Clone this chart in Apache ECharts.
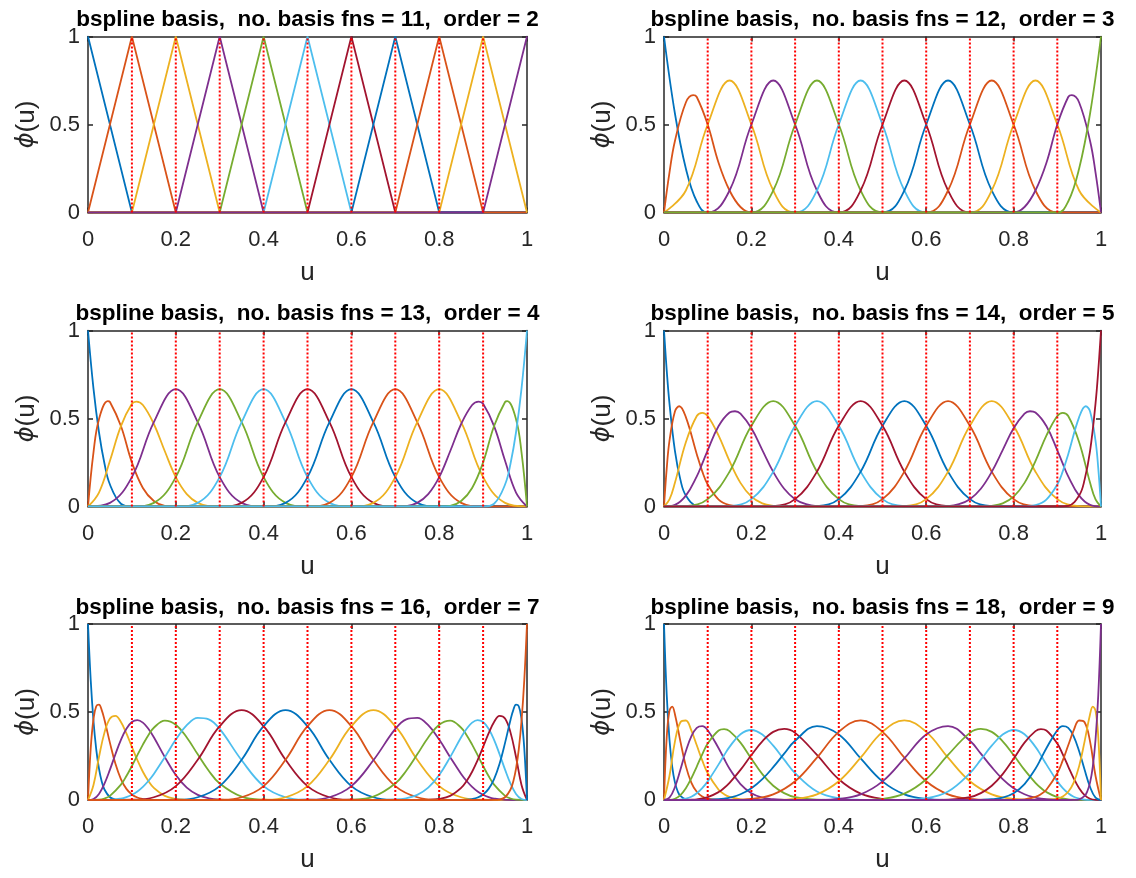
<!DOCTYPE html>
<html><head><meta charset="utf-8">
<script src="https://cdn.jsdelivr.net/npm/echarts@6/dist/echarts.min.js"></script>
<style>html,body{margin:0;padding:0;background:#fff}#c{width:1136px;height:878px}</style>
</head><body><div id="c"></div>
<script>
// ---------- DATA ----------
const lineColors = ['#0072BD','#D95319','#EDB120','#7E2F8E','#77AC30','#4DBEEE','#A2142F'];
const interiorKnots = [0.1,0.2,0.3,0.4,0.5,0.6,0.7,0.8,0.9];
const plotTitles = [
  'bspline basis,  no. basis fns = 11,  order = 2',
  'bspline basis,  no. basis fns = 12,  order = 3',
  'bspline basis,  no. basis fns = 13,  order = 4',
  'bspline basis,  no. basis fns = 14,  order = 5',
  'bspline basis,  no. basis fns = 16,  order = 7',
  'bspline basis,  no. basis fns = 18,  order = 9'
];
const xAxisName = 'u';
const yAxisName = '{phi|ϕ}(u)';

const curvesOrder2 = [
 [[0,1],[0.1,0],[1,0]],
 [[0,0],[0.1,1],[0.2,0],[1,0]],
 [[0,0],[0.1,0],[0.2,1],[0.3,0],[1,0]],
 [[0,0],[0.2,0],[0.3,1],[0.4,0],[1,0]],
 [[0,0],[0.3,0],[0.4,1],[0.5,0],[1,0]],
 [[0,0],[0.4,0],[0.5,1],[0.6,0],[1,0]],
 [[0,0],[0.5,0],[0.6,1],[0.7,0],[1,0]],
 [[0,0],[0.6,0],[0.7,1],[0.8,0],[1,0]],
 [[0,0],[0.7,0],[0.8,1],[0.9,0],[1,0]],
 [[0,0],[0.8,0],[0.9,1],[1,0]],
 [[0,0],[0.9,0],[1,1]]
];

const curvesOrder3 = [
 [[0,1],[0.025,0.5625],[0.05,0.25],[0.075,0.0625],[0.1,0],[1,0]],
 [[0,0],[0.0125,0.2266],[0.025,0.4063],[0.05,0.625],[0.0667,0.6667],[0.075,0.6563],[0.1,0.5],[0.125,0.2813],[0.15,0.125],[0.175,0.0313],[0.2,0],[1,0]],
 [[0,0],[0.05,0.125],[0.1,0.5],[0.15,0.75],[0.2,0.5],[0.25,0.125],[0.3,0],[1,0]],
 [[0,0],[0.1,0],[0.15,0.125],[0.2,0.5],[0.25,0.75],[0.3,0.5],[0.35,0.125],[0.4,0],[1,0]],
 [[0,0],[0.2,0],[0.25,0.125],[0.3,0.5],[0.35,0.75],[0.4,0.5],[0.45,0.125],[0.5,0],[1,0]],
 [[0,0],[0.3,0],[0.35,0.125],[0.4,0.5],[0.45,0.75],[0.5,0.5],[0.55,0.125],[0.6,0],[1,0]],
 [[0,0],[0.4,0],[0.45,0.125],[0.5,0.5],[0.55,0.75],[0.6,0.5],[0.65,0.125],[0.7,0],[1,0]],
 [[0,0],[0.5,0],[0.55,0.125],[0.6,0.5],[0.65,0.75],[0.7,0.5],[0.75,0.125],[0.8,0],[1,0]],
 [[0,0],[0.6,0],[0.65,0.125],[0.7,0.5],[0.75,0.75],[0.8,0.5],[0.85,0.125],[0.9,0],[1,0]],
 [[0,0],[0.7,0],[0.75,0.125],[0.8,0.5],[0.85,0.75],[0.9,0.5],[0.95,0.125],[1,0]],
 [[0,0],[0.8,0],[0.825,0.0313],[0.85,0.125],[0.875,0.2813],[0.9,0.5],[0.925,0.6563],[0.9333,0.6667],[0.95,0.625],[0.975,0.4063],[0.9875,0.2266],[1,0]],
 [[0,0],[0.9,0],[0.925,0.0625],[0.95,0.25],[0.975,0.5625],[1,1]]
];

const curvesOrder4 = [
 [[0,1],[0.0125,0.6699],[0.025,0.4219],[0.0375,0.2441],[0.05,0.125],[0.075,0.0156],[0.1,0],[1,0]],
 [[0,0],[0.0125,0.3081],[0.025,0.4961],[0.045,0.5982],[0.05,0.5938],[0.075,0.457],[0.1,0.25],[0.125,0.1055],[0.15,0.0313],[0.175,0.0039],[0.2,0],[1,0]],
 [[0,0],[0.025,0.0794],[0.05,0.2604],[0.075,0.457],[0.1,0.5833],[0.11,0.5964],[0.125,0.5768],[0.15,0.4688],[0.175,0.3138],[0.2,0.1667],[0.225,0.0703],[0.25,0.0208],[0.275,0.0026],[0.3,0],[1,0]],
 [[0,0],[0.05,0.0208],[0.1,0.1667],[0.15,0.4792],[0.2,0.6667],[0.25,0.4792],[0.3,0.1667],[0.35,0.0208],[0.4,0],[1,0]],
 [[0,0],[0.1,0],[0.15,0.0208],[0.2,0.1667],[0.25,0.4792],[0.3,0.6667],[0.35,0.4792],[0.4,0.1667],[0.45,0.0208],[0.5,0],[1,0]],
 [[0,0],[0.2,0],[0.25,0.0208],[0.3,0.1667],[0.35,0.4792],[0.4,0.6667],[0.45,0.4792],[0.5,0.1667],[0.55,0.0208],[0.6,0],[1,0]],
 [[0,0],[0.3,0],[0.35,0.0208],[0.4,0.1667],[0.45,0.4792],[0.5,0.6667],[0.55,0.4792],[0.6,0.1667],[0.65,0.0208],[0.7,0],[1,0]],
 [[0,0],[0.4,0],[0.45,0.0208],[0.5,0.1667],[0.55,0.4792],[0.6,0.6667],[0.65,0.4792],[0.7,0.1667],[0.75,0.0208],[0.8,0],[1,0]],
 [[0,0],[0.5,0],[0.55,0.0208],[0.6,0.1667],[0.65,0.4792],[0.7,0.6667],[0.75,0.4792],[0.8,0.1667],[0.85,0.0208],[0.9,0],[1,0]],
 [[0,0],[0.6,0],[0.65,0.0208],[0.7,0.1667],[0.75,0.4792],[0.8,0.6667],[0.85,0.4792],[0.9,0.1667],[0.95,0.0208],[1,0]],
 [[0,0],[0.7,0],[0.725,0.0026],[0.75,0.0208],[0.775,0.0703],[0.8,0.1667],[0.825,0.3138],[0.85,0.4688],[0.875,0.5768],[0.89,0.5964],[0.9,0.5833],[0.925,0.457],[0.95,0.2604],[0.975,0.0794],[1,0]],
 [[0,0],[0.8,0],[0.825,0.0039],[0.85,0.0313],[0.875,0.1055],[0.9,0.25],[0.925,0.457],[0.95,0.5938],[0.955,0.5982],[0.975,0.4961],[0.9875,0.3081],[1,0]],
 [[0,0],[0.9,0],[0.925,0.0156],[0.95,0.125],[0.9625,0.2441],[0.975,0.4219],[0.9875,0.6699],[1,1]]
];

const curvesOrder5 = [
 [[0,1],[0.00625,0.7725],[0.0125,0.5862],[0.025,0.3164],[0.0375,0.1526],[0.05,0.0625],[0.075,0.0039],[0.1,0],[1,0]],
 [[0,0],[0.00625,0.2165],[0.0125,0.3726],[0.025,0.5396],[0.035,0.5695],[0.05,0.5078],[0.075,0.2974],[0.0875,0.1997],[0.1,0.125],[0.125,0.0396],[0.15,0.0078],[0.175,0.0005],[0.2,0],[1,0]],
 [[0,0],[0.0125,0.04],[0.025,0.1348],[0.05,0.3655],[0.075,0.5142],[0.0875,0.5325],[0.1,0.5139],[0.125,0.4024],[0.15,0.2578],[0.175,0.1342],[0.2,0.0556],[0.225,0.0176],[0.25,0.0035],[0.275,0.0002],[0.3,0],[1,0]],
 [[0,0],[0.025,0.0091],[0.05,0.0616],[0.075,0.1714],[0.0875,0.2431],[0.1,0.3194],[0.125,0.457],[0.15,0.5339],[0.1625,0.5413],[0.175,0.5273],[0.2,0.4444],[0.225,0.3205],[0.25,0.197],[0.275,0.1009],[0.3,0.0417],[0.325,0.0132],[0.35,0.0026],[0.4,0],[1,0]],
 [[0,0],[0.05,0.0026],[0.1,0.0417],[0.15,0.1979],[0.2,0.4583],[0.25,0.599],[0.3,0.4583],[0.35,0.1979],[0.4,0.0417],[0.45,0.0026],[0.5,0],[1,0]],
 [[0,0],[0.1,0],[0.15,0.0026],[0.2,0.0417],[0.25,0.1979],[0.3,0.4583],[0.35,0.599],[0.4,0.4583],[0.45,0.1979],[0.5,0.0417],[0.55,0.0026],[0.6,0],[1,0]],
 [[0,0],[0.2,0],[0.25,0.0026],[0.3,0.0417],[0.35,0.1979],[0.4,0.4583],[0.45,0.599],[0.5,0.4583],[0.55,0.1979],[0.6,0.0417],[0.65,0.0026],[0.7,0],[1,0]],
 [[0,0],[0.3,0],[0.35,0.0026],[0.4,0.0417],[0.45,0.1979],[0.5,0.4583],[0.55,0.599],[0.6,0.4583],[0.65,0.1979],[0.7,0.0417],[0.75,0.0026],[0.8,0],[1,0]],
 [[0,0],[0.4,0],[0.45,0.0026],[0.5,0.0417],[0.55,0.1979],[0.6,0.4583],[0.65,0.599],[0.7,0.4583],[0.75,0.1979],[0.8,0.0417],[0.85,0.0026],[0.9,0],[1,0]],
 [[0,0],[0.5,0],[0.55,0.0026],[0.6,0.0417],[0.65,0.1979],[0.7,0.4583],[0.75,0.599],[0.8,0.4583],[0.85,0.1979],[0.9,0.0417],[0.95,0.0026],[1,0]],
 [[0,0],[0.6,0],[0.65,0.0026],[0.675,0.0132],[0.7,0.0417],[0.725,0.1009],[0.75,0.197],[0.775,0.3205],[0.8,0.4444],[0.825,0.5273],[0.8375,0.5413],[0.85,0.5339],[0.875,0.457],[0.9,0.3194],[0.9125,0.2431],[0.925,0.1714],[0.95,0.0616],[0.975,0.0091],[1,0]],
 [[0,0],[0.7,0],[0.725,0.0002],[0.75,0.0035],[0.775,0.0176],[0.8,0.0556],[0.825,0.1342],[0.85,0.2578],[0.875,0.4024],[0.9,0.5139],[0.9125,0.5325],[0.925,0.5142],[0.95,0.3655],[0.975,0.1348],[0.9875,0.04],[1,0]],
 [[0,0],[0.8,0],[0.825,0.0005],[0.85,0.0078],[0.875,0.0396],[0.9,0.125],[0.9125,0.1997],[0.925,0.2974],[0.95,0.5078],[0.965,0.5695],[0.975,0.5396],[0.9875,0.3726],[0.99375,0.2165],[1,0]],
 [[0,0],[0.9,0],[0.925,0.0039],[0.95,0.0625],[0.9625,0.1526],[0.975,0.3164],[0.9875,0.5862],[0.99375,0.7725],[1,1]]
];

const curvesOrder7 = [
 [[0,1],[0.00625,0.6789],[0.0125,0.4488],[0.01875,0.2877],[0.025,0.178],[0.03125,0.1056],[0.0375,0.0596],[0.05,0.0156],[0.0625,0.0028],[0.075,0.0002],[0.1,0],[1,0]],
 [[0,0],[0.00625,0.2952],[0.0125,0.4603],[0.01875,0.5325],[0.025,0.5416],[0.03125,0.5104],[0.0375,0.4562],[0.05,0.3247],[0.0625,0.2056],[0.075,0.1187],[0.0875,0.0633],[0.1,0.0313],[0.1125,0.014],[0.125,0.0056],[0.1375,0.0019],[0.15,0.0005],[0.2,0],[1,0]],
 [[0,0],[0.0125,0.0855],[0.025,0.244],[0.0375,0.3828],[0.05,0.4626],[0.0625,0.4784],[0.075,0.4436],[0.0875,0.3783],[0.1,0.3013],[0.1125,0.2261],[0.125,0.1606],[0.1375,0.1081],[0.15,0.0688],[0.175,0.0235],[0.2,0.0062],[0.225,0.0011],[0.25,0.0001],[0.3,0],[1,0]],
 [[0,0],[0.0125,0.0053],[0.025,0.0344],[0.0375,0.0926],[0.05,0.1724],[0.0625,0.2603],[0.075,0.3419],[0.0875,0.4052],[0.1,0.4432],[0.1125,0.4538],[0.125,0.4394],[0.1375,0.4048],[0.15,0.3565],[0.175,0.2437],[0.2,0.142],[0.225,0.0704],[0.25,0.0293],[0.275,0.0099],[0.3,0.0026],[0.35,0],[0.4,0],[1,0]],
 [[0,0],[0.025,0.0019],[0.0375,0.0085],[0.05,0.0234],[0.075,0.0871],[0.0875,0.136],[0.1,0.1933],[0.1125,0.2545],[0.125,0.3144],[0.1375,0.368],[0.15,0.4106],[0.175,0.4512],[0.2,0.428],[0.225,0.3551],[0.25,0.2593],[0.275,0.1666],[0.3,0.0936],[0.35,0.0188],[0.4,0.0017],[0.45,0],[0.5,0],[1,0]],
 [[0,0],[0.05,0.0012],[0.075,0.0082],[0.0875,0.0165],[0.1,0.0296],[0.1125,0.0487],[0.125,0.0747],[0.1375,0.1079],[0.15,0.1479],[0.175,0.2431],[0.2,0.3433],[0.225,0.425],[0.25,0.4668],[0.275,0.4584],[0.3,0.4038],[0.35,0.2257],[0.4,0.0789],[0.45,0.0157],[0.5,0.0014],[0.55,0],[0.6,0],[1,0]],
 [[0,0],[0.05,0.00002],[0.1,0.0014],[0.15,0.0157],[0.2,0.0792],[0.25,0.2288],[0.3,0.4194],[0.35,0.511],[0.4,0.4194],[0.45,0.2288],[0.5,0.0792],[0.55,0.0157],[0.6,0.0014],[0.65,0.00002],[0.7,0],[1,0]],
 [[0,0],[0.1,0],[0.15,0.00002],[0.2,0.0014],[0.25,0.0157],[0.3,0.0792],[0.35,0.2288],[0.4,0.4194],[0.45,0.511],[0.5,0.4194],[0.55,0.2288],[0.6,0.0792],[0.65,0.0157],[0.7,0.0014],[0.75,0.00002],[0.8,0],[1,0]],
 [[0,0],[0.2,0],[0.25,0.00002],[0.3,0.0014],[0.35,0.0157],[0.4,0.0792],[0.45,0.2288],[0.5,0.4194],[0.55,0.511],[0.6,0.4194],[0.65,0.2288],[0.7,0.0792],[0.75,0.0157],[0.8,0.0014],[0.85,0.00002],[0.9,0],[1,0]],
 [[0,0],[0.3,0],[0.35,0.00002],[0.4,0.0014],[0.45,0.0157],[0.5,0.0792],[0.55,0.2288],[0.6,0.4194],[0.65,0.511],[0.7,0.4194],[0.75,0.2288],[0.8,0.0792],[0.85,0.0157],[0.9,0.0014],[0.95,0.00002],[1,0]],
 [[0,0],[0.4,0],[0.45,0],[0.5,0.0014],[0.55,0.0157],[0.6,0.0789],[0.65,0.2257],[0.7,0.4038],[0.725,0.4584],[0.75,0.4668],[0.775,0.425],[0.8,0.3433],[0.825,0.2431],[0.85,0.1479],[0.8625,0.1079],[0.875,0.0747],[0.8875,0.0487],[0.9,0.0296],[0.9125,0.0165],[0.925,0.0082],[0.95,0.0012],[1,0]],
 [[0,0],[0.5,0],[0.55,0],[0.6,0.0017],[0.65,0.0188],[0.7,0.0936],[0.725,0.1666],[0.75,0.2593],[0.775,0.3551],[0.8,0.428],[0.825,0.4512],[0.85,0.4106],[0.8625,0.368],[0.875,0.3144],[0.8875,0.2545],[0.9,0.1933],[0.9125,0.136],[0.925,0.0871],[0.95,0.0234],[0.9625,0.0085],[0.975,0.0019],[1,0]],
 [[0,0],[0.6,0],[0.65,0],[0.7,0.0026],[0.725,0.0099],[0.75,0.0293],[0.775,0.0704],[0.8,0.142],[0.825,0.2437],[0.85,0.3565],[0.8625,0.4048],[0.875,0.4394],[0.8875,0.4538],[0.9,0.4432],[0.9125,0.4052],[0.925,0.3419],[0.9375,0.2603],[0.95,0.1724],[0.9625,0.0926],[0.975,0.0344],[0.9875,0.0053],[1,0]],
 [[0,0],[0.7,0],[0.75,0.0001],[0.775,0.0011],[0.8,0.0062],[0.825,0.0235],[0.85,0.0688],[0.8625,0.1081],[0.875,0.1606],[0.8875,0.2261],[0.9,0.3013],[0.9125,0.3783],[0.925,0.4436],[0.9375,0.4784],[0.95,0.4626],[0.9625,0.3828],[0.975,0.244],[0.9875,0.0855],[1,0]],
 [[0,0],[0.8,0],[0.85,0.0005],[0.8625,0.0019],[0.875,0.0056],[0.8875,0.014],[0.9,0.0313],[0.9125,0.0633],[0.925,0.1187],[0.9375,0.2056],[0.95,0.3247],[0.9625,0.4562],[0.96875,0.5104],[0.975,0.5416],[0.98125,0.5325],[0.9875,0.4603],[0.99375,0.2952],[1,0]],
 [[0,0],[0.9,0],[0.925,0.0002],[0.9375,0.0028],[0.95,0.0156],[0.9625,0.0596],[0.96875,0.1056],[0.975,0.178],[0.98125,0.2877],[0.9875,0.4488],[0.99375,0.6789],[1,1]]
];

const curvesOrder9 = [
 [[0,1],[0.00625,0.5967],[0.0125,0.3436],[0.01875,0.1899],[0.025,0.1001],[0.03125,0.0499],[0.0375,0.0233],[0.05,0.0039],[0.0625,0.0004],[0.075,0],[0.1,0],[1,0]],
 [[0,0],[0.00625,0.358],[0.0125,0.5062],[0.01875,0.5301],[0.025,0.487],[0.0375,0.3333],[0.05,0.1924],[0.0625,0.099],[0.075,0.0465],[0.0875,0.02],[0.1,0.0078],[0.125,0.0008],[0.1375,0.0002],[0.15,0],[0.2,0],[1,0]],
 [[0,0],[0.0125,0.1365],[0.025,0.3319],[0.0375,0.4416],[0.05,0.4517],[0.0625,0.3954],[0.075,0.3108],[0.0875,0.225],[0.1,0.1521],[0.125,0.058],[0.1375,0.0328],[0.15,0.0175],[0.175,0.0041],[0.2,0.0007],[0.225,0.0001],[0.25,0],[0.3,0],[1,0]],
 [[0,0],[0.0125,0.0131],[0.025,0.0736],[0.0375,0.172],[0.05,0.2772],[0.0625,0.3617],[0.075,0.4101],[0.0875,0.4198],[0.1,0.3968],[0.125,0.2942],[0.1375,0.2343],[0.15,0.1782],[0.175,0.0906],[0.2,0.0389],[0.225,0.014],[0.25,0.0042],[0.275,0.001],[0.3,0.0002],[0.4,0],[1,0]],
 [[0,0],[0.0125,0.0006],[0.025,0.0071],[0.0375,0.0277],[0.05,0.0668],[0.0625,0.1232],[0.075,0.1903],[0.0875,0.2591],[0.1,0.3205],[0.125,0.3952],[0.1375,0.4027],[0.15,0.3912],[0.175,0.3259],[0.2,0.2342],[0.225,0.147],[0.25,0.0809],[0.275,0.0389],[0.3,0.0163],[0.35,0.0017],[0.4,0.0001],[0.5,0],[1,0]],
 [[0,0],[0.025,0.0003],[0.0375,0.0021],[0.05,0.0075],[0.0625,0.0188],[0.075,0.0384],[0.0875,0.0675],[0.1,0.1058],[0.125,0.2023],[0.1375,0.2538],[0.15,0.3019],[0.175,0.3738],[0.2,0.3978],[0.225,0.3716],[0.25,0.3085],[0.275,0.2291],[0.3,0.1527],[0.35,0.0486],[0.4,0.0095],[0.45,0.001],[0.5,0],[0.6,0],[1,0]],
 [[0,0],[0.05,0.0004],[0.0625,0.0014],[0.075,0.0037],[0.1,0.0158],[0.125,0.0451],[0.1375,0.0682],[0.15,0.0973],[0.175,0.1709],[0.2,0.2555],[0.225,0.3336],[0.25,0.3871],[0.275,0.4038],[0.3,0.3814],[0.35,0.2561],[0.4,0.118],[0.45,0.0363],[0.5,0.007],[0.55,0.0007],[0.6,0],[0.7,0],[1,0]],
 [[0,0],[0.075,0.0002],[0.1,0.001],[0.125,0.0044],[0.1375,0.0079],[0.15,0.0133],[0.175,0.0325],[0.2,0.0667],[0.225,0.1186],[0.25,0.1866],[0.275,0.2635],[0.3,0.3369],[0.35,0.42],[0.4,0.3725],[0.45,0.2362],[0.5,0.1056],[0.55,0.032],[0.6,0.0061],[0.65,0.0006],[0.7,0],[0.8,0],[1,0]],
 [[0,0],[0.1,0],[0.15,0.0006],[0.2,0.0061],[0.25,0.0321],[0.3,0.1065],[0.35,0.2408],[0.4,0.3874],[0.45,0.4529],[0.5,0.3874],[0.55,0.2408],[0.6,0.1065],[0.65,0.0321],[0.7,0.0061],[0.75,0.0006],[0.8,0],[0.9,0],[1,0]],
 [[0,0],[0.2,0],[0.25,0.0006],[0.3,0.0061],[0.35,0.0321],[0.4,0.1065],[0.45,0.2408],[0.5,0.3874],[0.55,0.4529],[0.6,0.3874],[0.65,0.2408],[0.7,0.1065],[0.75,0.0321],[0.8,0.0061],[0.85,0.0006],[0.9,0],[1,0]],
 [[0,0],[0.2,0],[0.3,0],[0.35,0.0006],[0.4,0.0061],[0.45,0.032],[0.5,0.1056],[0.55,0.2362],[0.6,0.3725],[0.65,0.42],[0.7,0.3369],[0.725,0.2635],[0.75,0.1866],[0.775,0.1186],[0.8,0.0667],[0.825,0.0325],[0.85,0.0133],[0.8625,0.0079],[0.875,0.0044],[0.9,0.001],[0.925,0.0002],[1,0]],
 [[0,0],[0.3,0],[0.4,0],[0.45,0.0007],[0.5,0.007],[0.55,0.0363],[0.6,0.118],[0.65,0.2561],[0.7,0.3814],[0.725,0.4038],[0.75,0.3871],[0.775,0.3336],[0.8,0.2555],[0.825,0.1709],[0.85,0.0973],[0.8625,0.0682],[0.875,0.0451],[0.9,0.0158],[0.925,0.0037],[0.9375,0.0014],[0.95,0.0004],[1,0]],
 [[0,0],[0.4,0],[0.5,0],[0.55,0.001],[0.6,0.0095],[0.65,0.0486],[0.7,0.1527],[0.725,0.2291],[0.75,0.3085],[0.775,0.3716],[0.8,0.3978],[0.825,0.3738],[0.85,0.3019],[0.8625,0.2538],[0.875,0.2023],[0.9,0.1058],[0.9125,0.0675],[0.925,0.0384],[0.9375,0.0188],[0.95,0.0075],[0.9625,0.0021],[0.975,0.0003],[1,0]],
 [[0,0],[0.5,0],[0.6,0.0001],[0.65,0.0017],[0.7,0.0163],[0.725,0.0389],[0.75,0.0809],[0.775,0.147],[0.8,0.2342],[0.825,0.3259],[0.85,0.3912],[0.8625,0.4027],[0.875,0.3952],[0.9,0.3205],[0.9125,0.2591],[0.925,0.1903],[0.9375,0.1232],[0.95,0.0668],[0.9625,0.0277],[0.975,0.0071],[0.9875,0.0006],[1,0]],
 [[0,0],[0.6,0],[0.7,0.0002],[0.725,0.001],[0.75,0.0042],[0.775,0.014],[0.8,0.0389],[0.825,0.0906],[0.85,0.1782],[0.8625,0.2343],[0.875,0.2942],[0.9,0.3968],[0.9125,0.4198],[0.925,0.4101],[0.9375,0.3617],[0.95,0.2772],[0.9625,0.172],[0.975,0.0736],[0.9875,0.0131],[1,0]],
 [[0,0],[0.7,0],[0.75,0],[0.775,0.0001],[0.8,0.0007],[0.825,0.0041],[0.85,0.0175],[0.8625,0.0328],[0.875,0.058],[0.9,0.1521],[0.9125,0.225],[0.925,0.3108],[0.9375,0.3954],[0.95,0.4517],[0.9625,0.4416],[0.975,0.3319],[0.9875,0.1365],[1,0]],
 [[0,0],[0.8,0],[0.85,0],[0.8625,0.0002],[0.875,0.0008],[0.9,0.0078],[0.9125,0.02],[0.925,0.0465],[0.9375,0.099],[0.95,0.1924],[0.9625,0.3333],[0.975,0.487],[0.98125,0.5301],[0.9875,0.5062],[0.99375,0.358],[1,0]],
 [[0,0],[0.9,0],[0.925,0],[0.9375,0.0004],[0.95,0.0039],[0.9625,0.0233],[0.96875,0.0499],[0.975,0.1001],[0.98125,0.1899],[0.9875,0.3436],[0.99375,0.5967],[1,1]]
];

// ---------- LAYOUT / STYLE ----------
const plots = [curvesOrder2, curvesOrder3, curvesOrder4, curvesOrder5, curvesOrder7, curvesOrder9];
const smoothing = [false, 0.4, 0.4, 0.4, 0.4, 0.4];
const boxes = [
  {left:88, top:36.5, width:439, height:176},
  {left:664, top:36.5, width:437, height:176},
  {left:88, top:330.5, width:439, height:176},
  {left:664, top:330.5, width:437, height:176},
  {left:88, top:624, width:439, height:176},
  {left:664, top:624, width:437, height:176}
];
const FONT = '"Liberation Sans", Arial, Helvetica, sans-serif';
const AX = '#262626';

const option = {animation:false, backgroundColor:'#ffffff', title:[], grid:[], xAxis:[], yAxis:[], series:[]};

plots.forEach((curves, p) => {
  const b = boxes[p];
  option.grid.push({left:b.left, top:b.top, width:b.width, height:b.height, containLabel:false, show:false});
  option.title.push({
    text: plotTitles[p], left: b.left + b.width/2, top: b.top - 28, textAlign:'center', padding:0,
    textStyle:{fontFamily:FONT, fontWeight:'bold', fontSize:22.5, color:'#000'}
  });
  const lineCommon = {show:true, onZero:false, lineStyle:{color:AX, width:1.5}};
  const tickCommon = {show:true, inside:true, length:5, lineStyle:{color:AX, width:1.5}};
  const xb = option.xAxis.length;
  option.xAxis.push({
    gridIndex:p, type:'value', min:0, max:1, interval:0.2, position:'bottom',
    axisLine:lineCommon, axisTick:tickCommon, splitLine:{show:false},
    axisLabel:{show:true, margin:16, fontFamily:FONT, fontSize:22, color:AX},
    name:xAxisName, nameLocation:'middle', nameGap:47,
    nameTextStyle:{fontFamily:FONT, fontSize:26, color:AX}
  });
  option.xAxis.push({
    gridIndex:p, type:'value', min:0, max:1, interval:0.2, position:'top',
    axisLine:lineCommon, axisTick:tickCommon, splitLine:{show:false}, axisLabel:{show:false}
  });
  const yb = option.yAxis.length;
  option.yAxis.push({
    gridIndex:p, type:'value', min:0, max:1, interval:0.5, position:'left',
    axisLine:lineCommon, axisTick:tickCommon, splitLine:{show:false},
    axisLabel:{show:true, margin:8, fontFamily:FONT, fontSize:22, color:AX},
    name:yAxisName, nameLocation:'middle', nameGap:48, nameRotate:90,
    nameTextStyle:{fontFamily:FONT, fontSize:26, color:AX,
      rich:{phi:{fontFamily:'"DejaVu Sans", sans-serif', fontStyle:'italic', fontSize:24, color:AX}}}
  });
  option.yAxis.push({
    gridIndex:p, type:'value', min:0, max:1, interval:0.5, position:'right',
    axisLine:lineCommon, axisTick:tickCommon, splitLine:{show:false}, axisLabel:{show:false}
  });
  curves.forEach((pts, i) => {
    option.series.push({
      type:'line', xAxisIndex:xb, yAxisIndex:yb, data:pts, symbol:'none', showSymbol:false,
      smooth:smoothing[p], clip:true, silent:true,
      lineStyle:{width:1.8, color:lineColors[i % lineColors.length]}, z:2
    });
  });
  interiorKnots.forEach(k => {
    option.series.push({
      type:'line', xAxisIndex:xb, yAxisIndex:yb, data:[[k,0],[k,1]], symbol:'none', showSymbol:false,
      silent:true, lineStyle:{width:2, color:'#FF0000', type:[2,2]}, z:3
    });
  });
});

const chart = echarts.init(document.getElementById('c'), null, {renderer:'canvas'});
chart.setOption(option);
</script></body></html>
